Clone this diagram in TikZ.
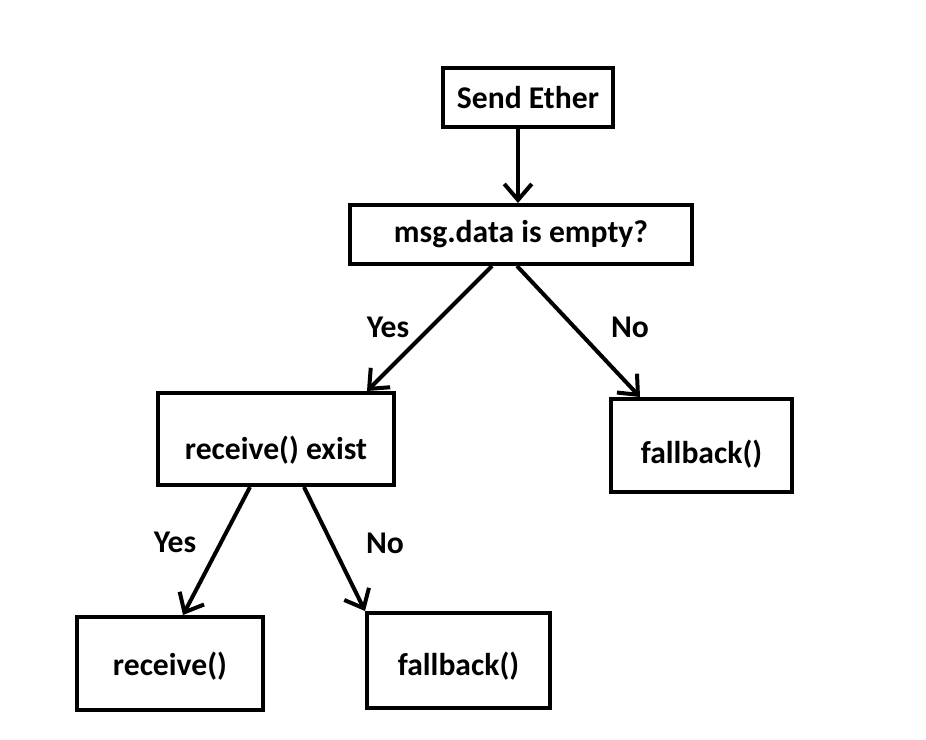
\documentclass[tikz,border=0pt]{standalone}
\usepackage{fontspec}
\setmainfont{Carlito}
\usetikzlibrary{arrows.meta}

\begin{document}
\begin{tikzpicture}[x=0.02cm, y=-0.02cm]
      \tikzset{ box/.style ={draw=black, line width=0.08cm, rectangle, inner sep=0pt, text=black, font=\fontsize{18}{21}\selectfont\bfseries} }
      \tikzset{ drop/.style={text height=#1, text depth=0cm} }
      \tikzset{ lbl/.style ={inner sep=0pt, text=black, font=\fontsize{18}{21}\selectfont\bfseries} }
      \tikzset{ arr/.style ={line width=0.08cm, -{Straight Barb[length=0.32cm, width=0.55cm, line width=0.08cm]}} }

      \useasboundingbox (0,0) rectangle (926,740);

      \node[box, minimum width=3.4cm,  minimum height=1.18cm] (snd)  at (528.0,  97.5) {Send Ether};
      \node[box, minimum width=6.84cm, minimum height=1.18cm] (cond) at (521.0, 234.5) {msg.data is empty?};

      \draw[arr] ([xshift=-0.2cm]snd.south) -- ([xshift=-0.2cm]snd.south |- cond.north);

      \node[box, drop=0.8cm,  minimum width=4.72cm, minimum height=1.84cm] (rcvx) at (276.0, 439.0) {receive() exist};
      \node[box, drop=0.7cm,  minimum width=3.62cm, minimum height=1.86cm] (fb1)  at (701.5, 445.5) {fallback()};

      \draw[arr] ([xshift=-0.58cm]cond.south) -- ([xshift=1.82cm]rcvx.north);
      \draw[arr] ([xshift=-0.08cm]cond.south) -- ([xshift=-1.23cm]fb1.north);

      \node[lbl] (yes1) at (388, 327) {Yes};
      \node[lbl] (no1)  at (630, 327) {No};

      \node[box, drop=0.46cm, minimum width=3.72cm, minimum height=1.86cm] (rcv) at (170.0, 663.5) {receive()};
      \node[box, drop=0.58cm, minimum width=3.66cm, minimum height=1.90cm] (fb2) at (458.5, 660.5) {fallback()};

      \draw[arr] ([xshift=-0.52cm]rcvx.south) -- ([xshift=0.26cm]rcv.north);
      \draw[arr] ([xshift=0.56cm]rcvx.south) -- (fb2.north west);

      \node[lbl] (yes2) at (175, 542) {Yes};
      \node[lbl] (no2)  at (385, 543) {No};
\end{tikzpicture}
\end{document}
